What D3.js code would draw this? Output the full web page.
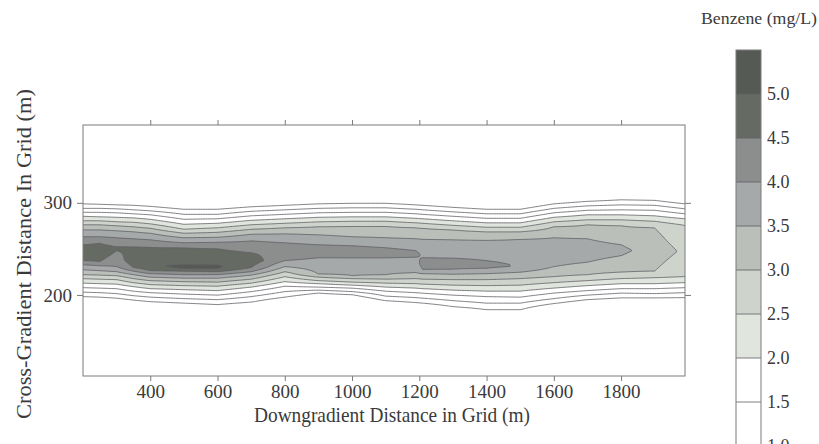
<!DOCTYPE html>
<html>
<head>
<meta charset="utf-8">
<script src="https://cdn.jsdelivr.net/npm/d3@7"></script>
<style>
  body { margin: 0; background: #fff; }
  text { font-family: "Liberation Serif", "DejaVu Serif", serif; fill: #3a3a3a; }
</style>
</head>
<body>
<div id="chart"></div>
<script>
// stations along the plume (downgradient distance, m)
var stations = [200, 250, 300, 350, 400, 500, 600, 700, 800, 900, 1000, 1100, 1190, 1210, 1300, 1400, 1500, 1600, 1700, 1800, 1900, 1990];
var levels = [0.5, 1.0, 1.5, 2.0, 2.5, 3.0, 3.5, 4.0, 4.5, 5.0];

// cross-gradient distance (m) where each level is met on the upper side, one row per level
var upperEdge = [
  [298.9, 298.4, 297.8, 297.3, 296.2, 293.0, 293.0, 295.7, 297.3, 298.9, 299.5, 299.5, 297.8, 297.3, 295.1, 293.0, 293.0, 298.9, 301.6, 303.3, 302.7, 298.9],
  [294.0, 294.0, 293.5, 292.4, 291.3, 287.5, 287.5, 290.8, 292.4, 294.0, 294.6, 294.6, 293.0, 292.4, 290.2, 288.1, 288.1, 294.0, 296.7, 297.8, 297.3, 293.5],
  [289.7, 289.7, 289.2, 288.1, 287.0, 282.1, 282.7, 285.9, 287.5, 289.2, 289.7, 289.7, 288.1, 287.5, 285.4, 283.2, 283.2, 289.2, 291.9, 292.4, 291.9, 288.1],
  [285.4, 284.8, 284.3, 283.7, 282.1, 276.7, 277.8, 281.0, 282.7, 284.3, 284.8, 284.8, 283.2, 282.7, 280.5, 278.3, 278.3, 284.3, 287.0, 287.0, 285.9, 282.7],
  [280.5, 280.5, 279.4, 278.9, 277.2, 271.3, 272.9, 276.2, 277.8, 279.4, 280.0, 280.0, 278.3, 277.8, 275.6, 273.5, 273.5, 279.4, 281.6, 281.6, 280.0, 275.6],
  [276.2, 276.2, 275.1, 274.0, 272.4, 267.0, 268.0, 271.3, 272.9, 274.0, 274.5, 274.5, 272.9, 272.4, 270.7, 268.6, 268.6, 274.0, 276.2, 275.1, 272.9, null],
  [270.7, 270.7, 269.7, 268.6, 267.0, 262.1, 262.6, 265.9, 266.4, 265.3, 263.2, 262.1, 261.0, 260.5, 259.9, 259.4, 260.5, 262.1, 261.0, 254.5, null, null],
  [263.2, 263.2, 262.1, 261.0, 259.9, 256.7, 257.2, 258.8, 256.7, 254.5, 253.4, 251.2, 248.0, 240.4, 239.9, 237.2, null, null, null, null, null, null],
  [254.5, 256.1, 252.3, 252.3, 251.8, 251.2, 250.2, 245.8, null, null, null, null, null, null, null, null, null, null, null, null, null, null],
  [null, null, null, null, null, 232.8, 232.3, null, null, null, null, null, null, null, null, null, null, null, null, null, null, null]
];

// same on the lower side of the plume
var lowerEdge = [
  [198.2, 197.6, 196.5, 194.4, 192.7, 191.1, 189.5, 192.2, 197.6, 202.0, 200.3, 193.8, 191.7, 191.1, 187.3, 184.0, 184.0, 190.6, 194.9, 196.8, 196.8, 197.1],
  [203.0, 202.5, 201.4, 199.2, 197.6, 196.0, 194.9, 198.2, 203.6, 205.2, 203.6, 198.7, 197.1, 196.5, 193.8, 191.1, 191.1, 196.0, 199.8, 202.0, 201.4, 202.5],
  [207.9, 207.4, 206.8, 204.1, 202.5, 200.9, 199.8, 203.6, 209.5, 208.5, 207.4, 204.1, 202.5, 201.9, 199.8, 198.2, 197.6, 202.0, 204.7, 206.8, 206.8, 207.9],
  [212.8, 212.2, 211.7, 209.0, 206.8, 205.7, 204.7, 208.5, 214.4, 212.2, 210.6, 208.5, 207.4, 206.8, 205.2, 204.1, 204.1, 207.4, 210.1, 212.2, 212.2, 213.3],
  [217.7, 217.1, 216.6, 213.3, 211.2, 210.1, 209.5, 212.8, 219.8, 215.5, 213.9, 212.8, 212.2, 211.7, 210.6, 210.1, 210.6, 213.3, 215.5, 217.7, 218.7, 219.8],
  [222.0, 221.5, 220.9, 217.7, 215.5, 214.4, 213.9, 217.1, 225.2, 219.3, 217.7, 217.1, 217.7, 217.1, 216.6, 216.6, 217.7, 219.8, 222.0, 224.7, 225.8, null],
  [227.4, 226.3, 225.2, 222.0, 219.3, 218.2, 218.2, 221.5, 230.7, 222.5, 220.9, 222.0, 224.2, 223.1, 222.5, 223.1, 224.7, 230.7, 235.5, 242.6, null, null],
  [232.8, 231.7, 230.7, 225.8, 223.1, 222.0, 222.0, 225.2, 237.2, 240.4, 240.4, 240.4, 241.0, 227.4, 228.0, 229.0, null, null, null, null, null, null],
  [237.2, 236.1, 248.0, 229.6, 226.3, 225.8, 225.2, 229.6, null, null, null, null, null, null, null, null, null, null, null, null, null, null],
  [null, null, null, null, null, 228.5, 228.5, null, null, null, null, null, null, null, null, null, null, null, null, null, null, null]
];

// highest concentration in each cross-section and where it sits
var peakY = [245.8, 246.9, 250.2, 238.2, 231.7, 230.7, 230.7, 237.2, 246.9, 248.0, 246.9, 245.8, 244.2, 233.9, 233.9, 232.8, 230.7, 243.7, 246.9, 248.0, 249.1, 246.9];
var peakConc = [4.85, 4.85, 4.6, 4.85, 4.95, 5.15, 5.1, 4.8, 4.35, 4.3, 4.3, 4.25, 4.15, 4.2, 4.25, 4.15, 3.97, 3.85, 3.75, 3.6, 3.3, 2.9];

var xTicks = [400, 600, 800, 1000, 1200, 1400, 1600, 1800];
var yTicks = [200, 300];
var legendTicks = [1.0, 1.5, 2.0, 2.5, 3.0, 3.5, 4.0, 4.5, 5.0];
var legendBands = [0.5, 1.0, 1.5, 2.0, 2.5, 3.0, 3.5, 4.0, 4.5, 5.0, 5.5];

var width = 819, height = 444;
var plot = {left: 83, right: 685, top: 125, bottom: 376};

var x = d3.scaleLinear().domain([200, 1990]).range([plot.left, plot.right]);
var y = d3.scaleLinear().domain([112, 384.5]).range([plot.bottom, plot.top]);

// grey shades of the original, white below 2.0
var color = d3.scaleThreshold()
  .domain([2.0, 2.5, 3.0, 3.5, 4.0, 4.5, 5.0])
  .range(["#ffffff", "#e0e5dd", "#ced4cc", "#babfba", "#a6a9aa", "#8b8e8d", "#656a63", "#565a55"]);

var lineColor = "#5f5d63";

var svg = d3.select("#chart").append("svg")
  .attr("width", width)
  .attr("height", height);

// knots of each cross-section profile, top to bottom
var knots = stations.map(function(s, i) {
  var k = [];
  levels.forEach(function(l, j) { if (upperEdge[j][i] != null) k.push([upperEdge[j][i], l]); });
  k.push([peakY[i], peakConc[i]]);
  for (var j = levels.length - 1; j >= 0; j--) {
    if (lowerEdge[j][i] != null) k.push([lowerEdge[j][i], levels[j]]);
  }
  return k;
});

const profile = (i, yy) => {
  var k = knots[i], n = k.length;
  if (yy >= k[0][0]) return Math.max(0, k[0][1] - (yy - k[0][0]) * 0.1);
  if (yy <= k[n - 1][0]) return Math.max(0, k[n - 1][1] - (k[n - 1][0] - yy) * 0.1);
  for (var j = 0; j < n - 1; j++) {
    if (yy <= k[j][0] && yy >= k[j + 1][0]) {
      var t = (k[j][0] - yy) / (k[j][0] - k[j + 1][0]);
      return k[j][1] + t * (k[j + 1][1] - k[j][1]);
    }
  }
  return 0;
}

// grid for d3.contours
var gx0 = 190, gdx = 5, gn = 363;
var gy0 = 390, gdy = 1, gm = 281;
var values = new Array(gn * gm);
for (var j = 0; j < gm; j++) {
  var yy = gy0 - j * gdy;
  for (var i = 0; i < gn; i++) {
    var xx = gx0 + i * gdx, v;
    if (xx <= stations[0]) v = profile(0, yy);
    else if (xx >= stations[stations.length - 1]) v = profile(stations.length - 1, yy);
    else {
      var s = d3.bisectRight(stations, xx) - 1;
      var t = (xx - stations[s]) / (stations[s + 1] - stations[s]);
      v = (1 - t) * profile(s, yy) + t * profile(s + 1, yy);
    }
    values[i + j * gn] = v;
  }
}

var contours = d3.contours().size([gn, gm]).thresholds(levels)(values);

var proj = d3.geoTransform({
  point: function(cx, cy) {
    this.stream.point(x(gx0 + (cx - 0.5) * gdx), y(gy0 - (cy - 0.5) * gdy));
  }
});
var path = d3.geoPath(proj);

svg.append("clipPath").attr("id", "clip")
  .append("rect")
  .attr("x", plot.left).attr("y", plot.top)
  .attr("width", plot.right - plot.left).attr("height", plot.bottom - plot.top);

var g = svg.append("g").attr("clip-path", "url(#clip)");

g.selectAll("path.fill")
  .data(contours.filter(function(c) { return c.value >= 2.0; }))
  .enter().append("path")
  .attr("class", "fill")
  .attr("d", path)
  .attr("fill", function(c) { return color(c.value); });

g.selectAll("path.line")
  .data(contours)
  .enter().append("path")
  .attr("class", "line")
  .attr("d", path)
  .attr("fill", "none")
  .attr("stroke", lineColor)
  .attr("stroke-width", 0.8);

// frame
svg.append("rect")
  .attr("x", plot.left).attr("y", plot.top)
  .attr("width", plot.right - plot.left).attr("height", plot.bottom - plot.top)
  .attr("fill", "none").attr("stroke", "#7a7a7a").attr("stroke-width", 1);

const styleAxis = sel => {
  sel.select(".domain").remove();
  sel.selectAll("line").attr("stroke", "#7a7a7a");
  sel.selectAll("text")
    .attr("font-family", "Liberation Serif, serif")
    .attr("font-size", 19)
    .attr("fill", "#3a3a3a");
}

svg.append("g").attr("transform", "translate(0," + plot.bottom + ")")
  .call(d3.axisBottom(x).tickValues(xTicks).tickSize(5).tickPadding(4).tickFormat(d3.format("d")))
  .call(styleAxis);
svg.append("g").attr("transform", "translate(0," + plot.top + ")")
  .call(d3.axisTop(x).tickValues(xTicks).tickSize(5).tickFormat(""))
  .call(styleAxis);
svg.append("g").attr("transform", "translate(" + plot.left + ",0)")
  .call(d3.axisLeft(y).tickValues(yTicks).tickSize(6).tickPadding(5).tickFormat(d3.format("d")))
  .call(styleAxis);
svg.append("g").attr("transform", "translate(" + plot.right + ",0)")
  .call(d3.axisRight(y).tickValues(yTicks).tickSize(6).tickFormat(""))
  .call(styleAxis);

// axis titles
svg.append("text")
  .attr("x", 392).attr("y", 422)
  .attr("text-anchor", "middle")
  .attr("font-size", 21)
  .attr("textLength", 276).attr("lengthAdjust", "spacingAndGlyphs")
  .text("Downgradient Distance in Grid (m)");

svg.append("text")
  .attr("transform", "translate(31,254) rotate(-90)")
  .attr("text-anchor", "middle")
  .attr("font-size", 22)
  .attr("textLength", 330).attr("lengthAdjust", "spacingAndGlyphs")
  .text("Cross-Gradient Distance In Grid (m)");

// colour bar
var cb = d3.scaleLinear().domain([1.0, 5.5]).range([446, 50]);
var cbX = 736, cbW = 25;
var bands = d3.pairs(legendBands);

svg.selectAll("rect.band")
  .data(bands)
  .enter().append("rect")
  .attr("class", "band")
  .attr("x", cbX).attr("width", cbW)
  .attr("y", function(d) { return cb(d[1]); })
  .attr("height", function(d) { return cb(d[0]) - cb(d[1]); })
  .attr("fill", function(d) { return color(d[0]); });

svg.selectAll("line.band")
  .data(legendTicks)
  .enter().append("line")
  .attr("class", "band")
  .attr("x1", cbX).attr("x2", cbX + cbW)
  .attr("y1", function(d) { return cb(d); }).attr("y2", function(d) { return cb(d); })
  .attr("stroke", lineColor).attr("stroke-width", 0.8);

svg.append("rect")
  .attr("x", cbX).attr("y", cb(5.5))
  .attr("width", cbW).attr("height", cb(0.5) - cb(5.5))
  .attr("fill", "none").attr("stroke", "#7a7a7a");

svg.selectAll("text.cb")
  .data(legendTicks)
  .enter().append("text")
  .attr("class", "cb")
  .attr("x", cbX + cbW + 6)
  .attr("y", function(d) { return cb(d); })
  .attr("dy", "0.35em")
  .attr("font-size", 18)
  .text(d3.format(".1f"));

svg.append("text")
  .attr("x", 817).attr("y", 24)
  .attr("text-anchor", "end")
  .attr("font-size", 17)
  .attr("textLength", 116).attr("lengthAdjust", "spacingAndGlyphs")
  .text("Benzene (mg/L)");
</script>
</body>
</html>
